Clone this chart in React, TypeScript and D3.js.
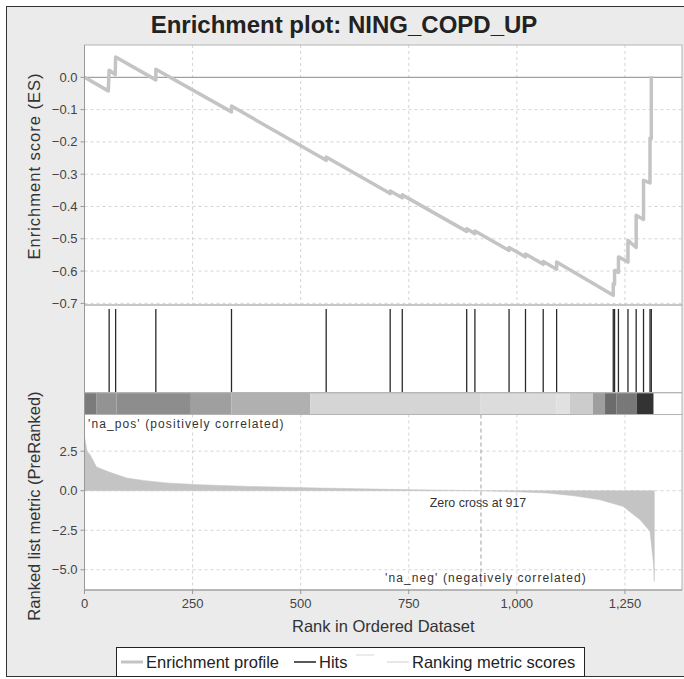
import React from 'react';
import * as d3 from 'd3';

// ranks of the gene-set members in the ordered list
const hitRanks = [57, 72, 165, 340, 559, 707, 735, 884, 903, 982, 1020, 1061, 1092, 1223, 1226, 1235, 1257, 1276, 1293, 1308, 1311];

// running enrichment score, vertices of the profile
const esRanks = [0, 55, 57, 71, 72, 165, 165, 340, 340, 559, 559, 707, 707, 735, 735, 884, 884, 903, 903, 982, 982, 1020, 1020, 1061, 1061, 1092, 1092, 1223, 1223, 1226, 1226, 1235, 1235, 1257, 1257, 1276, 1276, 1293, 1293, 1308, 1308, 1311, 1311];
const esValues = [0, -0.042, 0.022, 0.008, 0.063, -0.008, 0.025, -0.107, -0.089, -0.257, -0.247, -0.36, -0.352, -0.373, -0.364, -0.477, -0.469, -0.484, -0.476, -0.536, -0.527, -0.556, -0.547, -0.579, -0.57, -0.594, -0.572, -0.675, -0.639, -0.641, -0.598, -0.604, -0.556, -0.572, -0.505, -0.527, -0.427, -0.44, -0.319, -0.327, -0.188, -0.19, 0.003];

// ranked list metric
const metricRanks = [0, 6, 13, 28, 59, 98, 136, 190, 267, 383, 545, 700, 917, 1000, 1069, 1131, 1192, 1246, 1285, 1308, 1316, 1318];
const metricValues = [3.45, 2.5, 2.28, 1.5, 1.16, 0.8, 0.65, 0.49, 0.38, 0.27, 0.17, 0.09, 0, -0.07, -0.15, -0.32, -0.57, -1.0, -1.84, -2.58, -4.6, -5.75];

// colour bar blocks: start rank, end rank, shade
const barStarts = [0, 27, 74, 246, 340, 522, 915, 1092, 1123, 1176, 1204, 1230, 1277];
const barEnds = [27, 74, 246, 340, 522, 915, 1092, 1123, 1176, 1204, 1230, 1277, 1316];
const barShades = ['#7b7b7b', '#939393', '#8d8d8d', '#9f9f9f', '#b0b0b0', '#d5d5d5', '#dcdcdc', '#e1e1e1', '#cccccc', '#9e9e9e', '#6c6c6c', '#787878', '#333333'];

const xTicks = [0, 250, 500, 750, 1000, 1250];
const esTicks = [0, -0.1, -0.2, -0.3, -0.4, -0.5, -0.6, -0.7];
const metricTicks = [2.5, 0, -2.5, -5];
const zeroCross = 917;

const font = '"Liberation Sans", Arial, sans-serif';

export default function App() {
  const left = 84.5;
  const right = 682;
  const esTop = 45, esBottom = 305;
  const hitBottom = 392.7;
  const barBottom = 414.5;
  const mBottom = 590;

  const x = d3.scaleLinear().domain([0, 1382]).range([left, right]);
  const yEs = d3.scaleLinear().domain([-0.705, 0.1]).range([esBottom, esTop]);
  const yM = d3.scaleLinear().domain([-6.28, 4.82]).range([mBottom, barBottom]);

  const esLine = d3.line<number>()
    .x((d) => x(esRanks[d]))
    .y((d) => yEs(esValues[d]));

  const metricArea = d3.area<number>()
    .x((d) => x(metricRanks[d]))
    .y0(yM(0))
    .y1((d) => yM(metricValues[d]));

  const fmt1 = d3.format('.1f');
  const fmtX = d3.format(',');

  return (
    <svg width={684} height={679} style={{ position: 'absolute', left: 0, top: 0 }} fontFamily={font}>
      <rect x={0} y={0} width={684} height={679} fill="#ffffff" />
      <rect x={6.5} y={6.5} width={700} height={670} fill="#ebebeb" stroke="#333" strokeWidth={1} />

      <text x={344} y={33} textAnchor="middle" fontSize={24} fontWeight="bold" fill="#222">
        Enrichment plot: NING_COPD_UP
      </text>

      {/* ES panel */}
      <rect x={left} y={esTop} width={right - left} height={esBottom - esTop} fill="#fff" />
      {esTicks.filter((t) => t !== 0).map((t) => (
        <line key={'eg' + t} x1={left} x2={right} y1={yEs(t)} y2={yEs(t)} stroke="#d4d4d4" strokeDasharray="3,3" />
      ))}
      {xTicks.filter((t) => t > 0).map((t) => (
        <line key={'exg' + t} x1={x(t)} x2={x(t)} y1={esTop} y2={esBottom} stroke="#d4d4d4" strokeDasharray="3,3" />
      ))}
      <line x1={left} x2={right} y1={yEs(0)} y2={yEs(0)} stroke="#8a8a8a" strokeWidth={1} />
      <path d={esLine(d3.range(esRanks.length)) || ''} fill="none" stroke="#c4c4c4" strokeWidth={3.5} strokeLinejoin="round" />

      {/* hits panel */}
      <rect x={left} y={esBottom} width={right - left} height={hitBottom - esBottom} fill="#fff" />
      {hitRanks.map((r, i) => (
        <line key={'h' + i} x1={x(r)} x2={x(r)} y1={esBottom + 4} y2={hitBottom} stroke="#2a2a2a" strokeWidth={1.3} />
      ))}

      {/* colour bar */}
      <rect x={left} y={hitBottom} width={right - left} height={barBottom - hitBottom} fill="#fff" />
      {barStarts.map((s, i) => (
        <rect key={'b' + i} x={x(s)} y={hitBottom} width={x(barEnds[i]) - x(s)} height={barBottom - hitBottom} fill={barShades[i]} />
      ))}

      {/* metric panel */}
      <rect x={left} y={barBottom} width={right - left} height={mBottom - barBottom} fill="#fff" />
      {metricTicks.map((t) => (
        <line key={'mg' + t} x1={left} x2={right} y1={yM(t)} y2={yM(t)} stroke="#d4d4d4" strokeDasharray="3,3" />
      ))}
      {xTicks.filter((t) => t > 0).map((t) => (
        <line key={'mxg' + t} x1={x(t)} x2={x(t)} y1={barBottom} y2={mBottom} stroke="#d4d4d4" strokeDasharray="3,3" />
      ))}
      <path d={metricArea(d3.range(metricRanks.length)) || ''} fill="#c4c4c4" stroke="#c4c4c4" strokeWidth={0.5} />
      <line x1={x(zeroCross)} x2={x(zeroCross)} y1={barBottom} y2={mBottom} stroke="#a0a0a0" strokeDasharray="4,3" />
      <text x={88} y={428} fontSize={12} letterSpacing={1.1} fill="#333">'na_pos' (positively correlated)</text>
      <text x={478} y={507} textAnchor="middle" fontSize={12.4} fill="#333">Zero cross at {zeroCross}</text>
      <text x={486} y={582} textAnchor="middle" fontSize={12} letterSpacing={1.1} fill="#333">'na_neg' (negatively correlated)</text>

      {/* panel outlines */}
      {[[esTop, esBottom], [esBottom, hitBottom], [hitBottom, barBottom], [barBottom, mBottom]].map(([a, b], i) => (
        <rect key={'o' + i} x={left} y={a} width={right - left} height={b - a} fill="none" stroke="#b4b4b4" strokeWidth={1} />
      ))}
      <line x1={left} x2={left} y1={esTop} y2={mBottom} stroke="#999" />
      <line x1={left} x2={right} y1={mBottom} y2={mBottom} stroke="#999" />

      {/* axes */}
      {esTicks.map((t) => (
        <g key={'et' + t}>
          <line x1={left - 4} x2={left} y1={yEs(t)} y2={yEs(t)} stroke="#999" />
          <text x={left - 7} y={yEs(t)} dy="0.35em" textAnchor="end" fontSize={13} fill="#444">{fmt1(t)}</text>
        </g>
      ))}
      {metricTicks.map((t) => (
        <g key={'mt' + t}>
          <line x1={left - 4} x2={left} y1={yM(t)} y2={yM(t)} stroke="#999" />
          <text x={left - 7} y={yM(t)} dy="0.35em" textAnchor="end" fontSize={13} fill="#444">{fmt1(t)}</text>
        </g>
      ))}
      {xTicks.map((t) => (
        <g key={'xt' + t}>
          <line x1={x(t)} x2={x(t)} y1={mBottom} y2={mBottom + 4} stroke="#999" />
          <text x={x(t)} y={608} textAnchor="middle" fontSize={13} fill="#444">{fmtX(t)}</text>
        </g>
      ))}

      <text transform={`translate(40,166) rotate(-90)`} textAnchor="middle" fontSize={16.5} letterSpacing={1} fill="#333">
        Enrichment score (ES)
      </text>
      <text transform={`translate(40,506) rotate(-90)`} textAnchor="middle" fontSize={16.5} fill="#333">
        Ranked list metric (PreRanked)
      </text>
      <text x={(left + right) / 2} y={632} textAnchor="middle" fontSize={16.5} fill="#333">
        Rank in Ordered Dataset
      </text>

      {/* legend */}
      <rect x={116.5} y={647.5} width={468} height={29} fill="#fff" stroke="#222" />
      <line x1={121} x2={143} y1={662} y2={662} stroke="#c4c4c4" strokeWidth={3} />
      <text x={146} y={668} fontSize={16.5} fill="#222">Enrichment profile</text>
      <line x1={294} x2={316} y1={662} y2={662} stroke="#222" strokeWidth={1.5} />
      <text x={319} y={668} fontSize={16.5} fill="#222">Hits</text>
      <line x1={356} x2={374} y1={655} y2={655} stroke="#d8d8d8" strokeWidth={1} />
      <line x1={387} x2={409} y1={662} y2={662} stroke="#cfcfcf" strokeWidth={1} />
      <text x={412} y={668} fontSize={16.5} fill="#222">Ranking metric scores</text>
    </svg>
  );
}
